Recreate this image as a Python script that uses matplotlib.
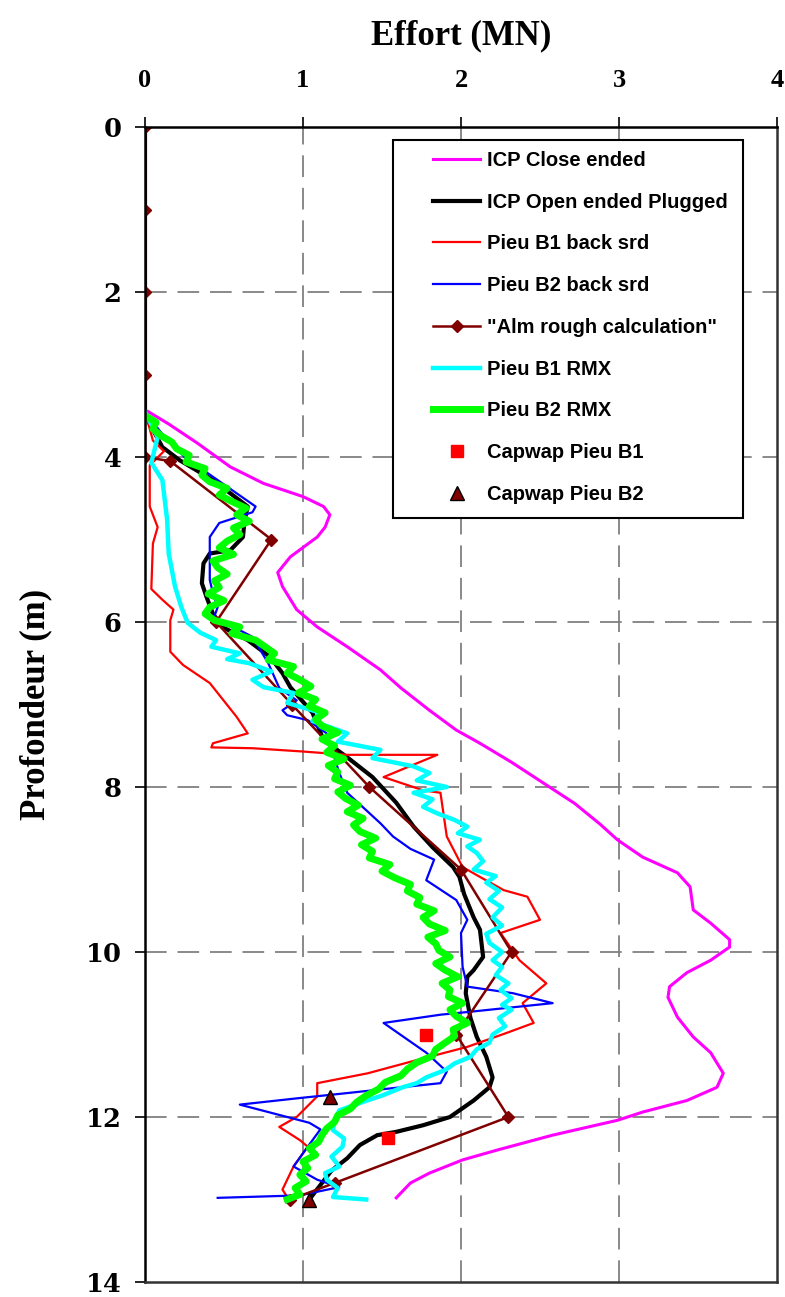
import matplotlib.pyplot as plt
from matplotlib.patches import Rectangle

# ICP Close ended (magenta)
icp_close_y = [3.45, 3.6, 3.83, 4.12, 4.32, 4.48, 4.6, 4.7, 4.85, 4.97, 5.21, 5.4, 5.57, 5.85, 6.06,
               6.3, 6.58, 6.8, 7.07, 7.31, 7.47, 7.7, 7.95, 8.2, 8.45, 8.64, 8.85, 9.04, 9.21, 9.49,
               9.65, 9.85, 9.94, 10.1, 10.25, 10.42, 10.55, 10.79, 11.03, 11.22, 11.47, 11.64, 11.8,
               11.94, 12.04, 12.22, 12.4, 12.52, 12.68, 12.8, 12.98]
icp_close_x = [0.02, 0.15, 0.33, 0.54, 0.75, 1.0, 1.13, 1.17, 1.14, 1.09, 0.92, 0.84, 0.87, 0.96, 1.09,
               1.28, 1.49, 1.62, 1.80, 1.97, 2.12, 2.32, 2.52, 2.72, 2.88, 2.99, 3.15, 3.37, 3.45, 3.47,
               3.58, 3.70, 3.70, 3.58, 3.43, 3.32, 3.31, 3.37, 3.47, 3.58, 3.66, 3.62, 3.43,
               3.15, 2.99, 2.58, 2.23, 2.01, 1.80, 1.68, 1.59]

# ICP Open ended Plugged (black)
icp_open_y = [0, 3.45, 3.6, 3.88, 4.04, 4.28, 4.44, 4.6, 4.77, 4.97, 5.13, 5.17, 5.29, 5.53, 5.7, 5.9,
              6.06, 6.22, 6.42, 6.62, 6.79, 7.1, 7.43, 7.64, 7.88, 8.19, 8.48, 8.73, 8.97, 9.09, 9.3,
              9.58, 9.73, 10.06, 10.22, 10.3, 10.5, 10.8, 11.03, 11.27, 11.52, 11.64, 11.8, 12.0, 12.1,
              12.18, 12.22, 12.34, 12.5, 12.65, 12.85, 13.0]
icp_open_x = [0, 0, 0.03, 0.11, 0.22, 0.43, 0.54, 0.65, 0.63, 0.62, 0.54, 0.41, 0.37, 0.36, 0.39, 0.43,
              0.49, 0.65, 0.79, 0.87, 0.92, 1.06, 1.13, 1.28, 1.44, 1.59, 1.70, 1.82, 1.95, 1.99, 2.02,
              2.08, 2.12, 2.14, 2.08, 2.04, 2.03, 2.06, 2.10, 2.16, 2.20, 2.18, 2.08, 1.93, 1.76,
              1.59, 1.47, 1.36, 1.28, 1.18, 1.10, 1.04]

# Pieu B1 back srd (red)
b1_srd_y = [3.45, 3.8, 3.93, 4.1, 4.6, 4.85, 5.05, 5.6, 5.73, 5.85, 5.98, 6.36, 6.52, 6.74, 7.15, 7.35,
            7.47, 7.52, 7.53, 7.57, 7.61, 7.61, 7.88, 8.04, 8.07, 8.6, 8.97, 9.09, 9.25, 9.33, 9.61,
            9.77, 10.1, 10.38, 10.62, 10.86, 10.98, 11.15, 11.31, 11.47, 11.59, 11.75, 12.0, 12.12,
            12.28, 12.36, 12.6, 12.88, 12.97]
b1_srd_x = [0.0, 0.05, 0.12, 0.03, 0.03, 0.08, 0.05, 0.04, 0.11, 0.18, 0.16, 0.16, 0.24, 0.41, 0.58, 0.65,
            0.43, 0.42, 0.68, 1.0, 1.28, 1.85, 1.51, 1.76, 1.87, 1.91, 2.01, 2.12, 2.27, 2.42, 2.50,
            2.25, 2.37, 2.54, 2.39, 2.46, 2.29, 2.04, 1.72, 1.41, 1.09, 1.09, 0.96, 0.85,
            0.98, 1.03, 0.94, 0.87, 0.90]

# Pieu B2 back srd (blue)
b2_srd_y = [3.45, 3.7, 4.0, 4.32, 4.6, 4.67, 4.8, 4.97, 5.49, 5.65, 5.82, 5.98, 6.1, 6.18, 6.5, 6.8,
            6.95, 7.07, 7.13, 7.19, 7.35, 7.59, 7.83, 8.07, 8.44, 8.6, 8.75, 8.88, 9.13, 9.37, 9.61,
            9.77, 10.18, 10.42, 10.5, 10.62, 10.67, 10.72, 10.76, 10.86, 11.22, 11.45, 11.59, 11.65,
            11.71, 11.77, 11.85, 12.07, 12.15, 12.36, 12.6, 12.76, 12.85, 12.95, 12.98]
b2_srd_x = [0.0, 0.1, 0.25, 0.49, 0.70, 0.68, 0.47, 0.41, 0.41, 0.43, 0.46, 0.43, 0.60, 0.68, 0.78, 0.85,
            0.96, 0.87, 0.90, 1.03, 1.15, 1.19, 1.23, 1.28, 1.49, 1.57, 1.68, 1.83, 1.78, 1.97, 2.04,
            2.00, 2.01, 2.04, 2.33, 2.58, 2.33, 2.08, 1.87, 1.51, 1.78, 1.91, 1.87, 1.57,
            1.28, 0.98, 0.60, 1.04, 1.11, 1.03, 0.94, 1.09, 1.23, 0.98, 0.46]

# "Alm rough calculation" (brown diamonds)
alm_y = [0, 1, 2, 3, 4, 4.05, 5, 6, 7, 8, 9, 10, 11, 12, 12.8, 13]
alm_x = [0, 0, 0, 0, 0, 0.16, 0.80, 0.45, 0.93, 1.42, 2.0, 2.32, 1.97, 2.30, 1.20, 0.92]

# Pieu B1 RMX (cyan)
b1_rmx_y = [3.45, 3.76, 4.07, 4.28, 4.76, 5.17, 5.57, 5.82, 6.01, 6.13, 6.22, 6.3, 6.38, 6.45, 6.5,
            6.6, 6.7, 6.79, 6.86, 6.98, 7.1, 7.2, 7.35, 7.45, 7.55, 7.65, 7.75, 7.83, 7.92, 8.0, 8.07,
            8.15, 8.24, 8.32, 8.4, 8.48, 8.56, 8.64, 8.72, 8.8, 8.9, 9.0, 9.08, 9.16, 9.26, 9.36,
            9.46, 9.58, 9.68, 9.78, 9.89, 10.0, 10.1, 10.18, 10.28, 10.38, 10.46, 10.56, 10.64,
            10.7, 10.8, 10.9, 11.0, 11.1, 11.18, 11.27, 11.35, 11.43, 11.52, 11.59, 11.64, 11.74,
            11.83, 11.92, 12.04, 12.16, 12.26, 12.36, 12.48, 12.6, 12.68, 12.76, 12.86, 12.97, 13.0]
b1_rmx_x = [0.0, 0.08, 0.04, 0.11, 0.14, 0.15, 0.19, 0.23, 0.27, 0.35, 0.45, 0.42, 0.60, 0.52, 0.66,
            0.80, 0.68, 0.75, 0.94, 0.90, 1.11, 1.06, 1.28, 1.22, 1.49, 1.44, 1.70, 1.80, 1.72, 1.91, 1.70,
            1.82, 1.76, 1.85, 1.96, 2.04, 1.98, 2.12, 2.04, 2.10, 2.14, 2.08, 2.22, 2.16, 2.24, 2.18,
            2.26, 2.20, 2.26, 2.16, 2.18, 2.26, 2.20, 2.26, 2.22, 2.30, 2.25, 2.32, 2.26,
            2.32, 2.24, 2.28, 2.20, 2.18, 2.10, 2.06, 1.96, 1.90, 1.78, 1.72, 1.63, 1.50,
            1.36, 1.23, 1.20, 1.19, 1.26, 1.25, 1.18, 1.23, 1.14, 1.15, 1.22, 1.19, 1.40]

# Pieu B2 RMX (green)
b2_rmx_y = [3.5, 3.58, 3.66, 3.74, 3.82, 3.9, 3.98, 4.06, 4.14, 4.22, 4.3, 4.38, 4.46, 4.54, 4.62,
            4.7, 4.78, 4.86, 4.94, 5.02, 5.1, 5.18, 5.26, 5.34, 5.42, 5.5, 5.58, 5.66, 5.74, 5.82,
            5.9, 5.98, 6.06, 6.14, 6.22, 6.3, 6.38, 6.46, 6.54, 6.62, 6.7, 6.78, 6.86, 6.94, 7.02,
            7.1, 7.18, 7.26, 7.34, 7.42, 7.5, 7.58, 7.66, 7.74, 7.82, 7.9, 7.98, 8.06, 8.14, 8.22,
            8.3, 8.38, 8.46, 8.54, 8.62, 8.7, 8.78, 8.86, 8.94, 9.02, 9.1, 9.18, 9.26, 9.34, 9.42,
            9.5, 9.58, 9.66, 9.74, 9.82, 9.9, 9.98, 10.06, 10.14, 10.22, 10.3, 10.38, 10.46, 10.54,
            10.62, 10.7, 10.78, 10.86, 10.94, 11.02, 11.1, 11.18, 11.26, 11.34, 11.42, 11.5, 11.58,
            11.66, 11.74, 11.82, 11.9, 11.98, 12.06, 12.14, 12.22, 12.3, 12.38, 12.46, 12.54, 12.62,
            12.7, 12.78, 12.86, 12.94, 13.0]
b2_rmx_x = [0.00, 0.07, 0.05, 0.10, 0.17, 0.20, 0.28, 0.26, 0.38, 0.36, 0.41, 0.52, 0.47, 0.55, 0.64,
            0.58, 0.66, 0.56, 0.60, 0.52, 0.47, 0.56, 0.43, 0.46, 0.52, 0.44, 0.47, 0.40, 0.50, 0.41,
            0.38, 0.44, 0.60, 0.55, 0.70, 0.76, 0.82, 0.78, 0.94, 0.90, 0.98, 1.05, 0.97, 1.08, 1.04,
            1.14, 1.08, 1.12, 1.22, 1.12, 1.20, 1.15, 1.26, 1.16, 1.22, 1.20, 1.30, 1.22, 1.27, 1.35,
            1.28, 1.38, 1.32, 1.36, 1.46, 1.37, 1.44, 1.42, 1.55, 1.50, 1.58, 1.68, 1.66, 1.74, 1.72,
            1.83, 1.76, 1.80, 1.90, 1.79, 1.84, 1.86, 1.93, 1.84, 1.90, 1.98, 1.88, 1.93, 1.92,
            2.01, 1.93, 1.97, 2.04, 1.95, 1.96, 1.90, 1.84, 1.82, 1.72, 1.66, 1.62, 1.52,
            1.48, 1.40, 1.34, 1.30, 1.22, 1.20, 1.15, 1.12, 1.10, 1.04, 1.08, 1.00, 1.03,
            0.98, 1.02, 0.95, 0.98, 0.90]

# Capwap points
capwap_b1_y = [11.0, 12.25]
capwap_b1_x = [1.78, 1.54]
capwap_b2_y = [11.76, 13.0]
capwap_b2_x = [1.17, 1.04]

fig = plt.figure(figsize=(7.85, 12.97), dpi=100)
ax = fig.add_axes([145 / 785, 1 - 1282 / 1297, 632 / 785, 1155 / 1297])

for gx in [1, 2, 3]:
    ax.axvline(gx, color='#808080', lw=1.3, dashes=(12, 6), zorder=0)
for gy in range(2, 14, 2):
    ax.axhline(gy, color='#808080', lw=1.3, dashes=(12, 6), zorder=0)

ax.plot(icp_close_x, icp_close_y, color='#FF00FF', lw=2.2, label='ICP Close ended')
ax.plot(icp_open_x, icp_open_y, color='black', lw=3.0, label='ICP Open ended Plugged')
ax.plot(b1_srd_x, b1_srd_y, color='#FF0000', lw=1.6, label='Pieu B1 back srd')
ax.plot(b2_srd_x, b2_srd_y, color='#0000FF', lw=1.6, label='Pieu B2 back srd')
ax.plot(alm_x, alm_y, color='#800000', lw=1.8, marker='D', ms=6, label='"Alm rough calculation"')
ax.plot(b1_rmx_x, b1_rmx_y, color='#00FFFF', lw=3.2, label='Pieu B1 RMX')
ax.plot(b2_rmx_x, b2_rmx_y, color='#00FF00', lw=5.0, label='Pieu B2 RMX')
ax.plot(capwap_b1_x, capwap_b1_y, ls='none', marker='s', ms=9, color='#FF0000', label='Capwap Pieu B1')
ax.plot(capwap_b2_x, capwap_b2_y, ls='none', marker='^', ms=10, color='#800000', mec='black',
        label='Capwap Pieu B2')

ax.set_xlim(0, 4)
ax.set_ylim(14, 0)
ax.xaxis.tick_top()
ax.xaxis.set_label_position('top')
ax.set_xticks([0, 1, 2, 3, 4])
ax.set_yticks(range(0, 15, 2))
ax.tick_params(axis='x', direction='out', length=7, width=1.2, pad=18)
ax.tick_params(axis='y', direction='out', length=7, width=1.2, pad=10)
for lab in ax.get_xticklabels():
    lab.set_fontfamily('Liberation Serif')
    lab.set_fontweight('bold')
    lab.set_fontsize(19)
for lab in ax.get_yticklabels():
    lab.set_fontfamily('DejaVu Serif')
    lab.set_fontweight('bold')
    lab.set_fontsize(18.5)

ax.set_xlabel('Effort (MN)', family='Liberation Serif', weight='bold', fontsize=25, labelpad=18)
ax.set_ylabel('Profondeur (m)', family='Liberation Serif', weight='bold', fontsize=25, labelpad=24)

for side in ['left', 'top']:
    ax.spines[side].set_linewidth(1.8)
    ax.spines[side].set_color('black')
for side in ['right', 'bottom']:
    ax.spines[side].set_linewidth(1.8)
    ax.spines[side].set_color('#333333')

box = Rectangle((0.3924, 0.6615), 0.5538, 0.3272, transform=ax.transAxes, facecolor='white',
                edgecolor='black', lw=1.5, zorder=4)
ax.add_patch(box)
leg = ax.legend(loc='upper left', bbox_to_anchor=(0.4557, 0.9794), frameon=False, borderpad=0,
                borderaxespad=0, handlelength=2.35, handletextpad=0.35, labelspacing=1.13,
                prop={'family': 'Liberation Sans', 'weight': 'bold', 'size': 14.5})
leg.set_zorder(6)

fig.savefig('out.png', dpi=100)
